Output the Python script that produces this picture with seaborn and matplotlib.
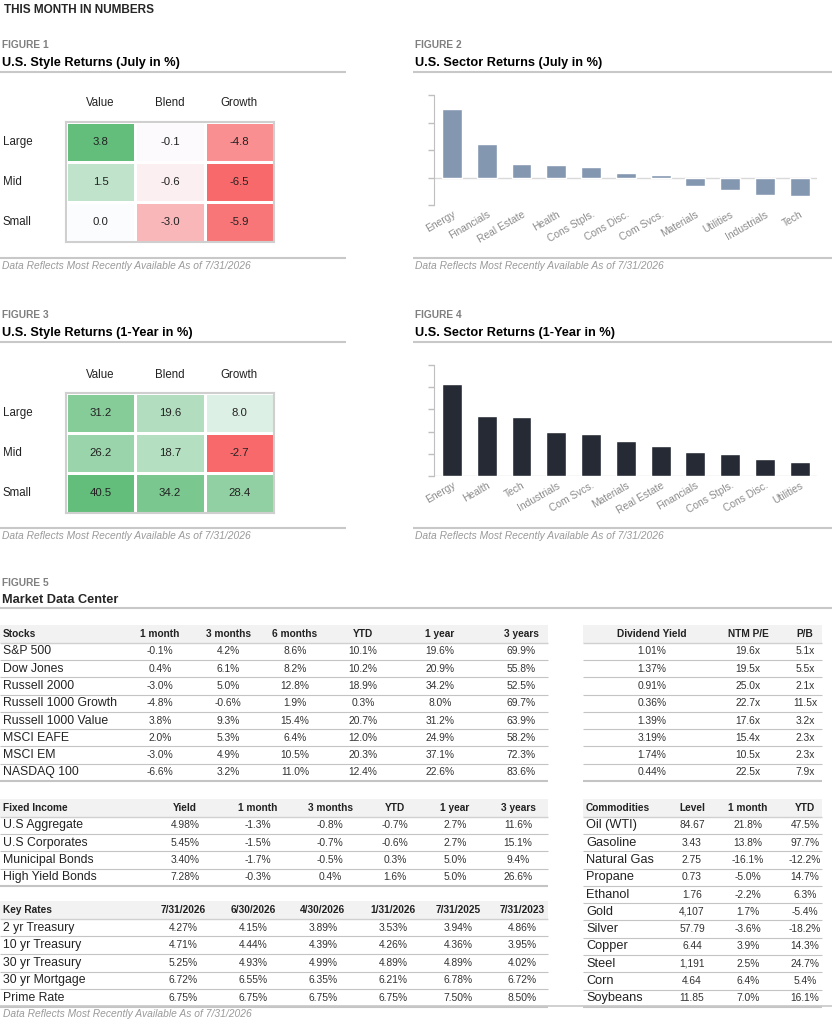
import numpy as np
import pandas as pd
import matplotlib
matplotlib.use("Agg")
import matplotlib.pyplot as plt
import seaborn as sns
from matplotlib.colors import LinearSegmentedColormap, TwoSlopeNorm

sns.set_style("white")
plt.rcParams['font.family'] = ['Liberation Sans', 'DejaVu Sans']

# ---- data ----
styles = ["Value", "Blend", "Growth"]
sizes = ["Large", "Mid", "Small"]
style_july = [[3.8, -0.1, -4.8], [1.5, -0.6, -6.5], [0.0, -3.0, -5.9]]
style_1yr = [[31.2, 19.6, 8.0], [26.2, 18.7, -2.7], [40.5, 34.2, 28.4]]

sectors_july = ["Energy", "Financials", "Real Estate", "Health", "Cons Stpls.", "Cons Disc.",
                "Com Svcs.", "Materials", "Utilities", "Industrials", "Tech"]
returns_july = [5.0, 2.45, 1.0, 0.92, 0.8, 0.31, 0.19, -0.65, -0.94, -1.26, -1.33]
sectors_1yr = ["Energy", "Health", "Tech", "Industrials", "Com Svcs.", "Materials", "Real Estate",
               "Financials", "Cons Stpls.", "Cons Disc.", "Utilities"]
returns_1yr = [41.3, 26.9, 26.4, 19.8, 18.9, 15.6, 13.7, 10.6, 10.1, 7.6, 6.3]

stock_names = ["S&P 500", "Dow Jones", "Russell 2000", "Russell 1000 Growth", "Russell 1000 Value",
               "MSCI EAFE", "MSCI EM", "NASDAQ 100"]
stock_cols = ["1 month", "3 months", "6 months", "YTD", "1 year", "3 years"]
stock_1m = [-0.1, 0.4, -3.0, -4.8, 3.8, 2.0, -3.0, -6.6]
stock_3m = [4.2, 6.1, 5.0, -0.6, 9.3, 5.3, 4.9, 3.2]
stock_6m = [8.6, 8.2, 12.8, 1.9, 15.4, 6.4, 10.5, 11.0]
stock_ytd = [10.1, 10.2, 18.9, 0.3, 20.7, 12.0, 20.3, 12.4]
stock_1y = [19.6, 20.9, 34.2, 8.0, 31.2, 24.9, 37.1, 22.6]
stock_3y = [69.9, 55.8, 52.5, 69.7, 63.9, 58.2, 72.3, 83.6]
div_yield = [1.01, 1.37, 0.91, 0.36, 1.39, 3.19, 1.74, 0.44]
ntm_pe = [19.6, 19.5, 25.0, 22.7, 17.6, 15.4, 10.5, 22.5]
pb_ratio = [5.1, 5.5, 2.1, 11.5, 3.2, 2.3, 2.3, 7.9]

fi_names = ["U.S Aggregate", "U.S Corporates", "Municipal Bonds", "High Yield Bonds"]
fi_cols = ["Yield", "1 month", "3 months", "YTD", "1 year", "3 years"]
fi_yield = [4.98, 5.45, 3.40, 7.28]
fi_1m = [-1.3, -1.5, -1.7, -0.3]
fi_3m = [-0.8, -0.7, -0.5, 0.4]
fi_ytd = [-0.7, -0.6, 0.3, 1.6]
fi_1y = [2.7, 2.7, 5.0, 5.0]
fi_3y = [11.6, 15.1, 9.4, 26.6]

rate_names = ["2 yr Treasury", "10 yr Treasury", "30 yr Treasury", "30 yr Mortgage", "Prime Rate"]
rate_dates = ["7/31/2026", "6/30/2026", "4/30/2026", "1/31/2026", "7/31/2025", "7/31/2023"]
rate_2yr = [4.27, 4.15, 3.89, 3.53, 3.94, 4.86]
rate_10yr = [4.71, 4.44, 4.39, 4.26, 4.36, 3.95]
rate_30yr = [5.25, 4.93, 4.99, 4.89, 4.89, 4.02]
rate_mort = [6.72, 6.55, 6.35, 6.21, 6.78, 6.72]
rate_prime = [6.75, 6.75, 6.75, 6.75, 7.50, 8.50]

comm_names = ["Oil (WTI)", "Gasoline", "Natural Gas", "Propane", "Ethanol", "Gold", "Silver",
              "Copper", "Steel", "Corn", "Soybeans"]
comm_level = [84.67, 3.43, 2.75, 0.73, 1.76, 4107, 57.79, 6.44, 1191, 4.64, 11.85]
comm_1m = [21.8, 13.8, -16.1, -5.0, -2.2, 1.7, -3.6, 3.9, 2.5, 6.4, 7.0]
comm_ytd = [47.5, 97.7, -12.2, 14.7, 6.3, -5.4, -18.2, 14.3, 24.7, 5.4, 16.1]

FOOT = "Data Reflects Most Recently Available As of 7/31/2026"
W, H = 832, 1024
GRAY = "#7f7f7f"
LINE = "#c8c8c8"
DARK = "#222222"

fig = plt.figure(figsize=(W / 100, H / 100), dpi=100, facecolor="white")


def box(x, y, w, h):
    return [x / W, 1 - (y + h) / H, w / W, h / H]


bg = fig.add_axes([0, 0, 1, 1])
bg.set_xlim(0, W)
bg.set_ylim(H, 0)
bg.axis("off")


def hline(x0, x1, y, lw=1.5, c=LINE):
    bg.plot([x0, x1], [y, y], color=c, lw=lw, solid_capstyle="butt")


def header(x0, x1, y, num, title, foot_y):
    bg.text(x0 + 2, y, "FIGURE %d" % num, fontsize=7.3, fontweight="bold", color=GRAY, va="center")
    bg.text(x0 + 2, y + 18, title, fontsize=9.2, fontweight="bold", color="black", va="center")
    hline(x0, x1, y + 27)
    if foot_y is not None:
        hline(x0, x1, foot_y)
        bg.text(x0 + 2, foot_y + 8, FOOT, fontsize=7.4, style="italic", color="#9a9a9a", va="center")


bg.text(4, 10, "THIS MONTH IN NUMBERS", fontsize=8.5, fontweight="bold", va="center",
        family=['Liberation Sans Narrow', 'Liberation Sans'])

header(0, 346, 45, 1, "U.S. Style Returns (July in %)", 258)
header(413, 832, 45, 2, "U.S. Sector Returns (July in %)", 258)
header(0, 346, 315, 3, "U.S. Style Returns (1-Year in %)", 528)
header(413, 832, 315, 4, "U.S. Sector Returns (1-Year in %)", 528)
bg.text(2, 583, "FIGURE 5", fontsize=7.3, fontweight="bold", color=GRAY, va="center")
bg.text(2, 600, "Market Data Center", fontsize=9.2, fontweight="bold", va="center")
hline(0, 832, 608)

# ---- style heatmaps ----
cmap = LinearSegmentedColormap.from_list("rwg", ["#f8696b", "#fcfcff", "#63be7b"])


def style_heatmap(vals, y0):
    ax = fig.add_axes(box(66, y0, 208, 120))
    df = pd.DataFrame(vals, index=sizes, columns=styles)
    arr = np.array(vals)
    norm = TwoSlopeNorm(vmin=arr.min(), vcenter=0, vmax=arr.max())
    sns.heatmap(df, annot=True, fmt=".1f", cmap=cmap, norm=norm, cbar=False,
                linewidths=1.0, linecolor="white", ax=ax,
                annot_kws=dict(color=DARK, fontsize=8.2))
    ax.xaxis.tick_top()
    ax.tick_params(axis="x", length=0, pad=9, labelsize=8.3, labelcolor=DARK)
    ax.set_yticks([])
    for i, s in enumerate(sizes):
        ax.text(-0.91, i + 0.5, s, ha="left", va="center", fontsize=8.3, color=DARK, clip_on=False)
    for sp in ax.spines.values():
        sp.set_visible(True)
        sp.set_color("#cfcfcf")
        sp.set_linewidth(1.5)


style_heatmap(style_july, 122)
style_heatmap(style_1yr, 393)

# ---- sector bar charts ----


def sector_bars(names, vals, y0, h, color, lim, ticks):
    ax = fig.add_axes(box(434, y0, 383, h))
    sns.barplot(x=names, y=vals, color=color, saturation=1, width=0.57, ax=ax)
    ax.set_ylim(*lim)
    ax.set_yticks(ticks)
    ax.set_yticklabels([])
    ax.set_xlim(-0.52, 10.5)
    ax.axhline(0, color="#d9d9d9", lw=1, zorder=0)
    for k in ["top", "right", "bottom"]:
        ax.spines[k].set_visible(False)
    ax.spines["left"].set_color("#bfbfbf")
    ax.tick_params(axis="y", left=True, length=4, color="#bfbfbf", width=1)
    ax.tick_params(axis="x", length=0, pad=3)
    ax.set_xticks(range(len(names)))
    ax.set_xticklabels(names, rotation=30, ha="right", rotation_mode="anchor",
                       fontsize=7.4, color="#8c8c8c")
    ax.set_xlabel("")
    ax.set_ylabel("")
    ax.patch.set_alpha(0)


sector_bars(sectors_july, returns_july, 95, 110, "#8497b0", (-2, 6), [-2, 0, 2, 4, 6])
sector_bars(sectors_1yr, returns_1yr, 365, 111, "#252a35", (0, 50), [0, 10, 20, 30, 40, 50])

# ---- tables ----


def table(x0, x1, y_head, row_h, title, cols, col_x, names, rows, label_size=8.8):
    bg.add_patch(plt.Rectangle((x0, y_head - 9), x1 - x0, 18, color="#f2f2f2", lw=0, zorder=0))
    hline(x0, x1, y_head + 9, lw=1, c="#d0d0d0")
    if title:
        bg.text(x0 + 3, y_head, title, fontsize=7.3, fontweight="bold", va="center", color=DARK)
    for c, cx in zip(cols, col_x):
        bg.text(cx, y_head, c, fontsize=7.3, fontweight="bold", va="center", ha="center", color=DARK)
    for i, r in enumerate(rows):
        y = y_head + row_h * (i + 1)
        if names is not None:
            bg.text(x0 + 3, y, names[i], fontsize=label_size, va="center", color=DARK)
        for v, cx in zip(r, col_x):
            bg.text(cx, y, v, fontsize=7.4, va="center", ha="center", color="#333333")
        lw = 1.5 if i == len(rows) - 1 else 0.8
        hline(x0, x1, y + row_h / 2, lw=lw, c="#c4c4c4")


pct = lambda v: "%.1f%%" % v
pct2 = lambda v: "%.2f%%" % v

stock_rows = [[pct(a), pct(b), pct(c), pct(d), pct(e), pct(f)]
              for a, b, c, d, e, f in zip(stock_1m, stock_3m, stock_6m, stock_ytd, stock_1y, stock_3y)]
table(0, 548, 634, 17.3, "Stocks", stock_cols, [160, 228, 295, 363, 440, 521], stock_names, stock_rows)

val_rows = [[pct2(a), "%.1fx" % b, "%.1fx" % c] for a, b, c in zip(div_yield, ntm_pe, pb_ratio)]
table(583, 822, 634, 17.3, None, ["Dividend Yield", "NTM P/E", "P/B"], [652, 748, 805], None, val_rows)

fi_rows = [[pct2(a), pct(b), pct(c), pct(d), pct(e), pct(f)]
           for a, b, c, d, e, f in zip(fi_yield, fi_1m, fi_3m, fi_ytd, fi_1y, fi_3y)]
table(0, 548, 808, 17.3, "Fixed Income", fi_cols, [185, 258, 330, 395, 455, 518], fi_names, fi_rows)

rate_rows = [[pct2(v) for v in r] for r in [rate_2yr, rate_10yr, rate_30yr, rate_mort, rate_prime]]
table(0, 548, 910, 17.6, "Key Rates", rate_dates, [183, 253, 323, 393, 458, 522], rate_names, rate_rows)

lvl = lambda v: "{:,.0f}".format(v) if v >= 1000 else "%.2f" % v
comm_rows = [[lvl(a), pct(b), pct(c)] for a, b, c in zip(comm_level, comm_1m, comm_ytd)]
table(583, 822, 808, 17.3, "Commodities", ["Level", "1 month", "YTD"], [692, 748, 805],
      comm_names, comm_rows, label_size=9.2)

hline(0, 832, 1006, lw=1.2)
bg.text(3, 1014, FOOT, fontsize=7.4, style="italic", color="#9a9a9a", va="center")

fig.savefig("out.png", dpi=100, facecolor="white")
